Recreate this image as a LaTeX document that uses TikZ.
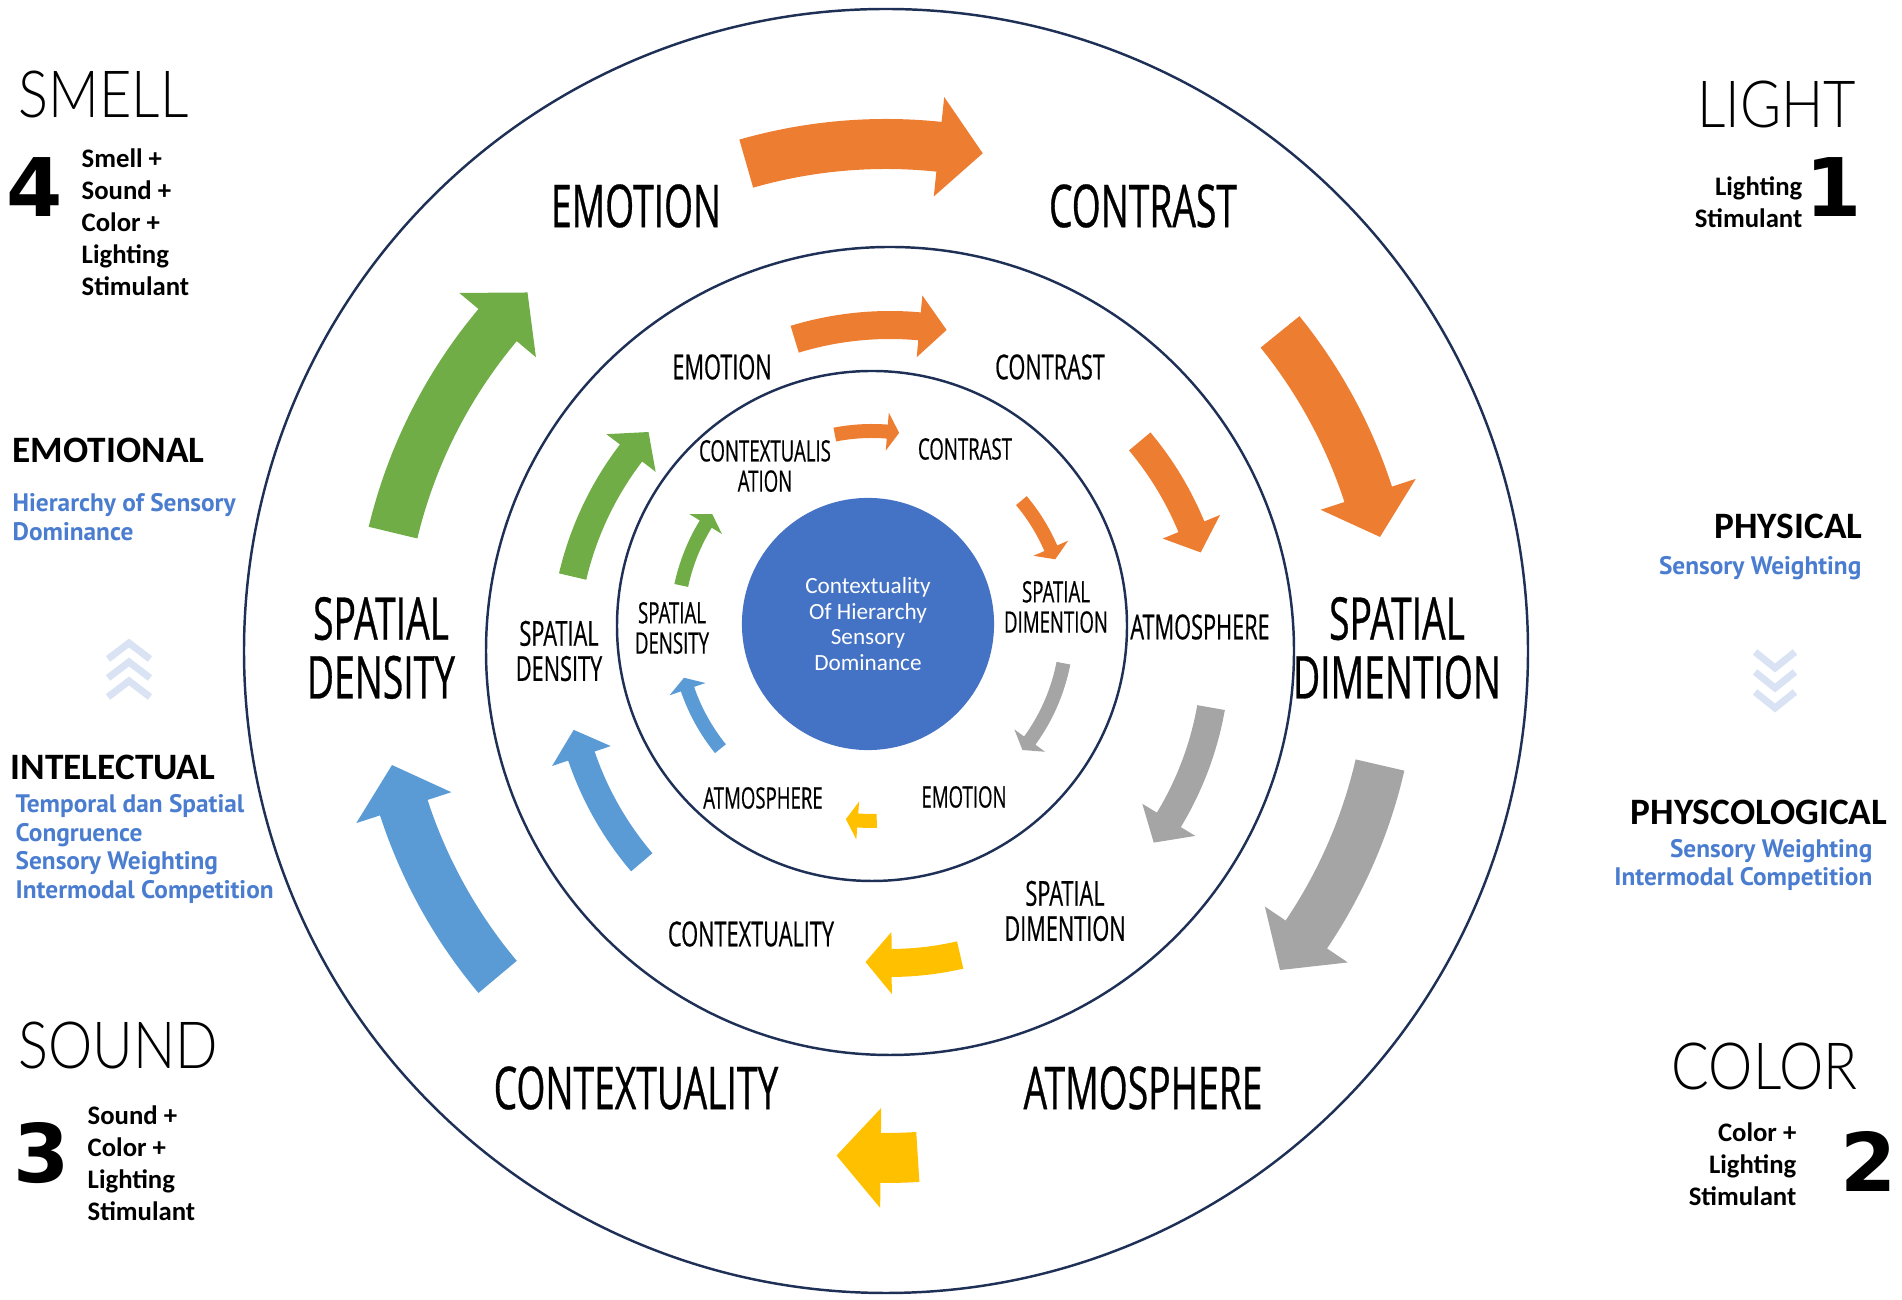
\documentclass[tikz,border=0pt]{standalone}
\usepackage{fontspec}
\usepackage{xcolor}
\usepackage{tikz}
\usetikzlibrary{positioning, calc}
\setmainfont{Carlito}
\newfontfamily\ringfont[FakeStretch=0.63, FakeBold=0.5]{Open Sans}
\newfontfamily\thinfont[FakeStretch=0.86]{Lato Light}
\newfontfamily\notefont{PT Sans}
\newfontfamily\rankfont{DejaVu Sans}
\definecolor{ringline}{HTML}{1F3056}
\definecolor{arrorange}{HTML}{ED7D31}
\definecolor{arrgray}{HTML}{A5A5A5}
\definecolor{arryellow}{HTML}{FFC000}
\definecolor{arrblue}{HTML}{5B9BD5}
\definecolor{arrgreen}{HTML}{70AD47}
\definecolor{hubblue}{HTML}{4472C4}
\definecolor{notetext}{HTML}{4A7DCF}
\definecolor{chevronblue}{HTML}{DAE3F3}

% curved block arrow: centre, radius, from, to, half shaft, half head, head angle, colour
\newcommand{\ringarrow}[8]{%
  \fill[#8] ($(#1)+({#3}:{#2+#5})$) arc[start angle={#3}, end angle={#4+#7}, radius={#2+#5}]
    -- ($(#1)+({#4+#7}:{#2+#6})$) -- ($(#1)+({#4}:{#2})$) -- ($(#1)+({#4+#7}:{#2-#6})$)
    -- ($(#1)+({#4+#7}:{#2-#5})$) arc[start angle={#4+#7}, end angle={#3}, radius={#2-#5}] -- cycle;}

\tikzset{sidetext/.style={
    sense/.style={font=\thinfont\fontsize{18.5}{20}\selectfont, inner sep=0pt},
    rank/.style={font=\rankfont\bfseries\fontsize{23}{23}\selectfont, inner sep=0pt},
    combo/.style={font=\bfseries\fontsize{7.6}{9.1}\selectfont, inner sep=0pt},
    level/.style={font=\bfseries\fontsize{10.6}{12}\selectfont, inner sep=0pt},
    note/.style={font=\notefont\bfseries\fontsize{7.2}{8.2}\selectfont, text=notetext, inner sep=0pt},
}}

\begin{document}
\begin{tikzpicture}[x=0.01cm, y=0.01cm, sidetext,
    ring/.style={draw=ringline, line width=0.7pt},
    outerlabel/.style={font=\ringfont\fontsize{16.8}{16.7}\selectfont, align=center, inner sep=0pt},
    midlabel/.style={font=\ringfont\fontsize{9.8}{10}\selectfont, align=center, inner sep=0pt},
    innerlabel/.style={font=\ringfont\fontsize{8.4}{8.6}\selectfont, align=center, inner sep=0pt},
    hub/.style={circle, fill=hubblue, minimum size=2.52cm, inner sep=0pt, text=white, align=center,
        font=\fontsize{6.6}{7.3}\selectfont},
    chevron/.style={draw=chevronblue, line width=2pt}
]
    \useasboundingbox (0,0) rectangle (1902,1300);
    \coordinate (oc) at (886,649);
    \coordinate (mc) at (890,649);
    \coordinate (ic) at (872,674);

    \draw[ring] (oc) circle[radius=642];
    \draw[ring] (mc) circle[radius=404];
    \draw[ring] (ic) circle[radius=255];
    \node[hub] (hub) at (868,676) {Contextuality\\Of Hierarchy\\Sensory\\Dominance};

    % arrows, clockwise round each ring
    \foreach \s/\e/\col in {106/79/arrorange, 39/13/arrorange, -13/-39/arrgray,
            -86.4/-95.6/arryellow, -140/-167/arrblue, 166.5/135/arrgreen}
        \ringarrow{oc}{507}{\s}{\e}{25}{50}{5}{\col};
    \foreach \s/\e/\r/\col in {107/80/326/arrorange, 40/17.6/326/arrorange, -10/-36/326/arrgray,
            -77/-94.5/312/arryellow, -139.6/-166/326/arrblue, 166.8/137.8/326/arrgreen}
        \ringarrow{mc}{\r}{\s}{\e}{14}{31}{4.8}{\col};
    \foreach \s/\e/\col in {101/82/arrorange, 40/20/arrorange, -11/-39.5/arrgray,
            -88.6/-97.7/arryellow, -141/-164.6/arrblue, 168/145/arrgreen}
        \ringarrow{ic}{195}{\s}{\e}{7}{19}{3.5}{\col};

    % outer ring
    \node[outerlabel] (outEmotion) at (636,1094) {EMOTION};
    \node[outerlabel] (outContrast) at (1143,1094) {CONTRAST};
    \node[outerlabel] (outDimension) at (1397,652) {SPATIAL\\DIMENTION};
    \node[outerlabel] (outAtmosphere) at (1143,212) {ATMOSPHERE};
    \node[outerlabel] (outContext) at (636,212) {CONTEXTUALITY};
    \node[outerlabel] (outDensity) at (381,652) {SPATIAL\\DENSITY};

    % middle ring
    \node[midlabel] (midEmotion) at (722,933) {EMOTION};
    \node[midlabel] (midContrast) at (1050,933) {CONTRAST};
    \node[midlabel] (midAtmosphere) at (1200,673) {ATMOSPHERE};
    \node[midlabel] (midDimension) at (1065,389) {SPATIAL\\DIMENTION};
    \node[midlabel] (midContext) at (751,366) {CONTEXTUALITY};
    \node[midlabel] (midDensity) at (559,649) {SPATIAL\\DENSITY};

    % inner ring
    \node[innerlabel] (inContext) at (765,834) {CONTEXTUALIS\\ATION};
    \node[innerlabel] (inContrast) at (965,851) {CONTRAST};
    \node[innerlabel] (inDimension) at (1056,693) {SPATIAL\\DIMENTION};
    \node[innerlabel] (inEmotion) at (964,503) {EMOTION};
    \node[innerlabel] (inAtmosphere) at (763,502) {ATMOSPHERE};
    \node[innerlabel] (inDensity) at (672,672) {SPATIAL\\DENSITY};

    % left column
    \node[sense, anchor=west] (smell) at (18,1205) {SMELL};
    \node[rank, anchor=west] (four) at (6,1113) {4};
    \node[combo, anchor=west, align=left] (smellCombo) at (81,1078) {Smell +\\Sound +\\Color +\\Lighting\\Stimulant};
    \node[level, anchor=west] (emotional) at (12,850) {EMOTIONAL};
    \node[note, anchor=west, align=left] (emotionalNote) at (12,783) {Hierarchy of Sensory\\Dominance};
    \foreach \i in {0,1,2}
        \draw[chevron] (108,{641-19*\i}) -- (129,{657-19*\i}) -- (150,{641-19*\i});
    \node[level, anchor=west] (intelectual) at (10,533) {INTELECTUAL};
    \node[note, anchor=west, align=left] (intelectualNote) at (15,451) {Temporal dan Spatial\\Congruence\\Sensory Weighting\\Intermodal Competition};
    \node[sense, anchor=west] (sound) at (18,254) {SOUND};
    \node[rank, anchor=west] (three) at (13,147) {3};
    \node[combo, anchor=west, align=left] (soundCombo) at (87,137) {Sound +\\Color +\\Lighting\\Stimulant};

    % right column
    \node[sense, anchor=east] (light) at (1857,1195) {LIGHT};
    \node[rank, anchor=east] (one) at (1862,1113) {1};
    \node[combo, anchor=east, align=right] (lightCombo) at (1803,1098) {Lighting\\Stimulant};
    \node[level, anchor=east] (physical) at (1863,774) {PHYSICAL};
    \node[note, anchor=base east] (physicalNote) at (1862,725) {Sensory Weighting};
    \foreach \i in {0,1,2}
        \draw[chevron] (1755,{648-20*\i}) -- (1775,{632-20*\i}) -- (1795,{648-20*\i});
    \node[level, anchor=east] (physcological) at (1888,488) {PHYSCOLOGICAL};
    \node[note, anchor=east, align=right] (physcologicalNote) at (1873,435) {Sensory Weighting\\Intermodal Competition};
    \node[sense, anchor=east] (color) at (1858,234) {COLOR};
    \node[rank, anchor=east] (two) at (1897,139) {2};
    \node[combo, anchor=east, align=right] (colorCombo) at (1797,136) {Color +\\Lighting\\Stimulant};
\end{tikzpicture}
\end{document}
